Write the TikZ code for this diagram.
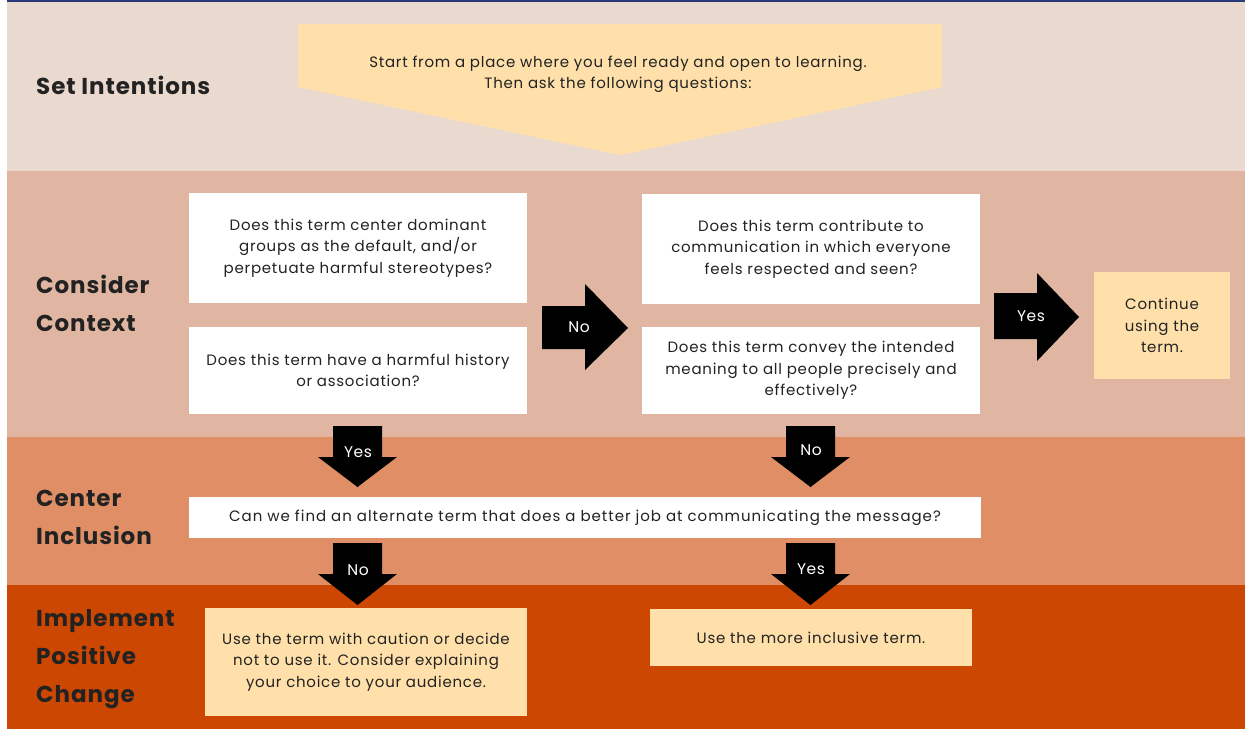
\documentclass[tikz,border=0pt]{standalone}
\usepackage{fontspec}
\setmainfont{Poppins}
\definecolor{navy}{HTML}{2B3A7A}
\definecolor{bandA}{HTML}{EAD9CF}
\definecolor{bandB}{HTML}{E0B6A2}
\definecolor{bandC}{HTML}{DF8E66}
\definecolor{bandD}{HTML}{CC4702}
\definecolor{cream}{HTML}{FFE0AA}
\definecolor{ink}{HTML}{222222}
\begin{document}
\begin{tikzpicture}[x=1pt,y=-1pt,
  body/.style={font=\fontsize{15}{21.5}\selectfont\addfontfeatures{LetterSpace=5}, text=ink, align=center, inner sep=0pt},
  head/.style={font=\fontsize{23}{38}\selectfont\bfseries\addfontfeatures{LetterSpace=4}, text=ink, align=left, anchor=west, inner sep=0pt},
  qbox/.style={body, fill=white, minimum width=#1},
  cbox/.style={body, fill=cream},
  blk/.style={fill=black},
  blabel/.style={font=\fontsize{15.5}{18}\selectfont\addfontfeatures{LetterSpace=4}, text=white, inner sep=0pt}]
\useasboundingbox (0,0) rectangle (1245,729);
% bands
\fill[bandA] (7,2) rectangle (1245,171);
\fill[bandB] (7,171) rectangle (1245,437);
\fill[bandC] (7,437) rectangle (1245,585);
\fill[bandD] (7,585) rectangle (1245,729);
\fill[navy] (7,0) rectangle (1245,2);
% headings
\node[head] (h1) at (36,85.5) {Set Intentions};
\node[head] (h2) at (36,303.5) {Consider\\Context};
\node[head] (h3) at (36,517) {Center\\Inclusion};
\node[head] (h4) at (36,659.5) {Implement\\Positive\\Change};
% top pentagon
\fill[cream] (298,24) -- (942,24) -- (942,87) -- (620,155) -- (298,87) -- cycle;
\node[body] (start) at (618,74.5) {Start from a place where you feel ready and open to learning.\\Then ask the following questions:};
% question boxes
\node[qbox=338pt, minimum height=110pt] (q1) at (358,248) {Does this term center dominant\\groups as the default, and/or\\perpetuate harmful stereotypes?};
\node[qbox=338pt, minimum height=87pt] (q2) at (358,370.5) {Does this term have a harmful history\\or association?};
\node[qbox=338pt, minimum height=110pt] (q3) at (811,249) {Does this term contribute to\\communication in which everyone\\feels respected and seen?};
\node[qbox=338pt, minimum height=87pt] (q4) at (811,370.5) {Does this term convey the intended\\meaning to all people precisely and\\effectively?};
\node[cbox, minimum width=136pt, minimum height=107pt] (cont) at (1162,325.5) {Continue\\using the\\term.};
\node[qbox=792pt, minimum height=41pt, font=\fontsize{15}{21.5}\selectfont\addfontfeatures{LetterSpace=6.5}] (alt) at (585,517.5) {Can we find an alternate term that does a better job at communicating the message?};
\node[cbox, minimum width=322pt, minimum height=108pt] (caut) at (366,662) {Use the term with caution or decide\\not to use it. Consider explaining\\your choice to your audience.};
\node[cbox, minimum width=322pt, minimum height=57pt] (incl) at (811,637.5) {Use the more inclusive term.};
% block arrows
\fill[blk] (542,306) -- (585,306) -- (585,284) -- (628,328) -- (585,370) -- (585,349) -- (542,349) -- cycle;
\node[blabel] (lno1) at (579,327) {No};
\fill[blk] (994,293) -- (1037,293) -- (1037,273) -- (1079,317) -- (1037,361) -- (1037,339) -- (994,339) -- cycle;
\node[blabel] (lyes1) at (1031,316) {Yes};
\foreach \cx/\yt/\yb/\tip in {357.5/426/457/487, 810.5/426/457/487, 357.5/543/574/605, 810.5/543/574/605}{
  \fill[blk] (\cx-24.5,\yt) -- (\cx+24.5,\yt) -- (\cx+24.5,\yb) -- (\cx+39.5,\yb) -- (\cx,\tip) -- (\cx-39.5,\yb) -- (\cx-24.5,\yb) -- cycle;
}
\node[blabel] (lyes2) at (358,452) {Yes};
\node[blabel] (lno2) at (811,450) {No};
\node[blabel] (lno3) at (358,570) {No};
\node[blabel] (lyes3) at (811,569) {Yes};
\end{tikzpicture}
\end{document}
